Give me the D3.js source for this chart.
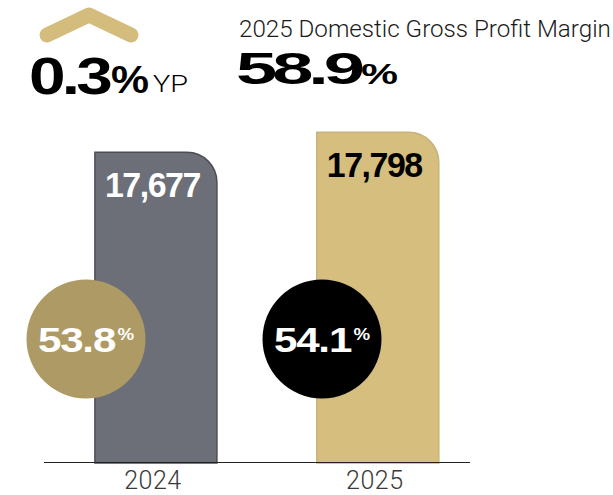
<!DOCTYPE html>
<html>
<head>
<meta charset="utf-8">
<script src="https://cdn.jsdelivr.net/npm/d3@7"></script>
<style>
  html, body { margin: 0; padding: 0; background: #fff; }
  svg { display: block; }
  .bold { font-family: "Liberation Sans", Arial, sans-serif; font-weight: 700; }
  .light { font-family: Roboto, "Liberation Sans", sans-serif; font-weight: 300; }
</style>
</head>
<body>
<script>
// Domestic gross profit by year, with the gross margin for each year
const years = ["2024", "2025"];
const grossProfit = [17677, 17798];
const marginPct = [53.8, 54.1];
const headlineChange = 0.3;      // year-on-year margin change, points
const headlineMargin = 58.9;     // 2025 domestic gross profit margin
const headlineTitle = "2025 Domestic Gross Profit Margin";

const palette = {
  bars: ["#6c6f78", "#d5be7e"],
  barEdges: ["#4c4e55", "#c7b37c"],
  barText: ["#ffffff", "#000000"],
  badges: ["#ae9a64", "#000000"],
  chevron: "#d4bd7c"
};

const W = 613, H = 495;
const svg = d3.select("body").append("svg").attr("width", W).attr("height", H);

const x = d3.scaleBand().domain(years).range([44, 470])
  .paddingInner(0.45).paddingOuter(0.185).align(0.62);
const y = d3.scaleLinear().domain([15800, 17800]).range([463, 132]);
const badgeX = d3.scalePoint().domain(years).range([86, 322]);

const baseY = 462.5;
const radius = 30;

// place a text at (tx, ty) and stretch it horizontally to a given width
function fitText(sel, tx, ty, width) {
  sel.each(function () {
    const w = this.getComputedTextLength();
    d3.select(this).attr("transform", `translate(${tx},${ty}) scale(${width / w},1)`);
  });
  return sel;
}

// bar outline with a rounded top-right corner
function barPath(x0, y0, w, y1) {
  const r = Math.min(radius, w / 2);
  return `M${x0},${y1} V${y0} H${x0 + w - r} A${r},${r} 0 0 1 ${x0 + w},${y0 + r} V${y1} Z`;
}

const data = years.map((yr, i) => ({ year: yr, value: grossProfit[i], margin: marginPct[i], i }));

svg.append("g").selectAll("path").data(data).join("path")
  .attr("d", d => barPath(x(d.year), y(d.value), x.bandwidth(), y(15800)))
  .attr("fill", d => palette.bars[d.i])
  .attr("stroke", d => palette.barEdges[d.i])
  .attr("stroke-width", 1.5);

// baseline
svg.append("line")
  .attr("x1", x.range()[0]).attr("x2", x.range()[1])
  .attr("y1", baseY).attr("y2", baseY)
  .attr("stroke", "#222").attr("stroke-width", 1.2);

// value labels inside the bars
const fmt = d3.format(",");
svg.append("g").selectAll("text").data(data).join("text")
  .attr("class", "bold")
  .attr("font-size", 35)
  .attr("letter-spacing", -1.5)
  .attr("fill", d => palette.barText[d.i])
  .text(d => fmt(d.value))
  .each(function (d) {
    fitText(d3.select(this), x(d.year) + 10, y(d.value) + 45, 95);
  });

// year labels
svg.append("g").selectAll("text").data(data).join("text")
  .attr("class", "light")
  .attr("x", d => x(d.year) + x.bandwidth() / 2 - 3)
  .attr("y", 489)
  .attr("text-anchor", "middle")
  .attr("font-size", 25)
  .attr("letter-spacing", 0.5)
  .attr("fill", "#3a3a3a")
  .text(d => d.year);

// margin badges
const badgeY = 339, badgeR = 59.5;
const badges = svg.append("g").selectAll("g").data(data).join("g");
badges.append("circle")
  .attr("cx", d => badgeX(d.year)).attr("cy", badgeY).attr("r", badgeR)
  .attr("fill", d => palette.badges[d.i]);
const bt = badges.append("text")
  .attr("class", "bold")
  .attr("text-anchor", "middle")
  .attr("transform", d => `translate(${badgeX(d.year)},${badgeY + 13}) scale(1.17,1)`)
  .attr("fill", "#fff")
  .attr("letter-spacing", -1);
bt.append("tspan").attr("font-size", 36).text(d => d.margin.toFixed(1));
bt.append("tspan").attr("font-size", 16).attr("dy", -12).attr("dx", 2).attr("letter-spacing", 0).text("%");

// headline: change arrow and year-on-year points
svg.append("path")
  .attr("d", d3.line()([[47, 35], [89, 15], [131, 35]]))
  .attr("fill", "none")
  .attr("stroke", palette.chevron)
  .attr("stroke-width", 15)
  .attr("stroke-linecap", "round")
  .attr("stroke-linejoin", "round");

fitText(svg.append("text").attr("class", "bold").attr("font-size", 52)
  .attr("letter-spacing", -3).text(headlineChange.toFixed(1)), 29, 94, 80);
fitText(svg.append("text").attr("class", "bold").attr("font-size", 38)
  .text("%"), 111, 93, 38);
fitText(svg.append("text").attr("class", "light").attr("font-size", 24)
  .text("YP"), 153, 92, 35);

// headline: current margin
fitText(svg.append("text").attr("class", "light").attr("font-size", 24).attr("fill", "#1a1a1a")
  .text(headlineTitle), 239, 37, 372);
fitText(svg.append("text").attr("class", "bold").attr("font-size", 44)
  .attr("letter-spacing", -3).text(headlineMargin.toFixed(1)), 236, 84, 124);
fitText(svg.append("text").attr("class", "bold").attr("font-size", 29)
  .text("%"), 361, 84, 37);
</script>
</body>
</html>
